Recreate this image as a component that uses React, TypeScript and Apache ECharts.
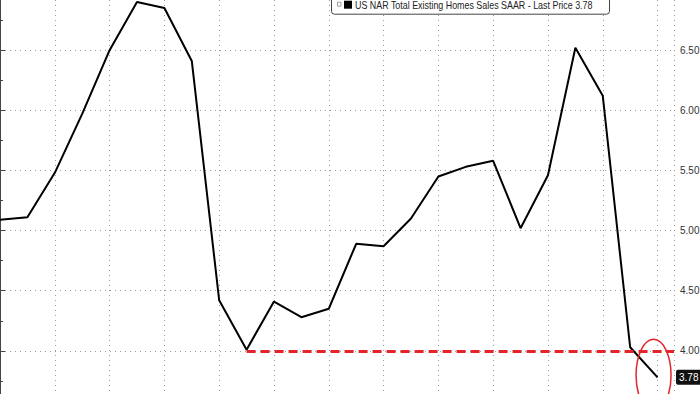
import React, { useEffect, useRef } from "react";
import * as echarts from "echarts";

const seriesName = "US NAR Total Existing Homes Sales SAAR";
const periods = [0, 1, 2, 3, 4, 5, 6, 7, 8, 9, 10, 11, 12, 13, 14, 15, 16, 17, 18, 19, 20, 21, 22, 23, 24];
const values = [5.09, 5.11, 5.48, 5.97, 6.5, 6.9, 6.85, 6.41, 4.42, 4.01, 4.41, 4.28, 4.35, 4.89, 4.87, 5.1, 5.45, 5.53, 5.58, 5.02, 5.46, 6.52, 6.12, 4.03, 3.78];
const lowLevel = 4.0;
const lowIndex = 9;
const lastPrice = 3.78;
const yMin = 3.5;
const yMax = 7.0;
const yStep = 0.5;
const xMin = 0;
const xMax = 24.6;
const xStep = 2;

const RED = "#e3242b";
const FONT = "'Liberation Sans', Arial, sans-serif";
const OFFSET_TOP = 10.2;
const CHART_H = 421.4;

export default function App() {
  const ref = useRef<HTMLDivElement>(null);
  useEffect(() => {
    document.body.style.margin = "0";
    if (!ref.current) return;
    const chart = echarts.init(ref.current, null, { renderer: "svg" });
    const data = periods.map((p, i) => [p, values[i]]);
    const lastIdx = periods[periods.length - 1];
    chart.setOption({
      animation: false,
      backgroundColor: "#ffffff",
      grid: { left: 0, right: 26, top: 0, bottom: 0, containLabel: false, outerBoundsMode: "none" },
      xAxis: {
        type: "value",
        min: xMin,
        max: xMax,
        interval: xStep,
        axisLine: { show: false },
        axisTick: { show: false },
        axisLabel: { show: false },
        splitLine: { show: true, lineStyle: { color: "#9a9a9a", type: [1, 4], width: 1 } },
      },
      yAxis: {
        type: "value",
        position: "right",
        min: yMin,
        max: yMax,
        interval: yStep,
        axisLine: { show: true, lineStyle: { color: "#444", width: 1 } },
        axisTick: { show: true, length: 5, lineStyle: { color: "#444" } },
        minorTick: { show: true, splitNumber: 2, length: 3, lineStyle: { color: "#444" } },
        axisLabel: {
          show: true,
          margin: 6,
          color: "#333",
          fontSize: 10,
          fontFamily: FONT,
          showMinLabel: false,
          showMaxLabel: false,
          formatter: (v: number) => v.toFixed(2),
        },
        splitLine: { show: true, lineStyle: { color: "#9a9a9a", type: [1, 4], width: 1 } },
      },
      series: [
        {
          name: seriesName,
          type: "line",
          data,
          symbol: "none",
          lineStyle: { color: "#000", width: 2 },
          clip: true,
          markLine: {
            silent: true,
            symbol: "none",
            animation: false,
            data: [
              [
                { coord: [lowIndex, lowLevel], lineStyle: { color: RED, width: 3, type: [9, 5] }, label: { show: false } },
                { coord: [xMax, lowLevel] },
              ],
            ],
          },
        },
      ],
    });
    const pt = chart.convertToPixel({ seriesIndex: 0 }, [lastIdx, lastPrice]) as number[];
    const rightEdge = chart.convertToPixel({ seriesIndex: 0 }, [xMax, lastPrice]) as number[];
    chart.setOption({
      graphic: [
        {
          type: "ellipse",
          shape: { cx: pt[0] - 4, cy: pt[1] - 2, rx: 17.5, ry: 36 },
          style: { fill: "none", stroke: RED, lineWidth: 1.5 },
          z: 100,
        },
        {
          type: "rect",
          z: 105,
          shape: { x: rightEdge[0] + 2, y: pt[1] - 7.5, width: 26, height: 15, r: 2 },
          style: { fill: "#111" },
        },
        {
          type: "text",
          z: 106,
          x: rightEdge[0] + 5,
          y: pt[1] + 0.5,
          style: {
            text: lastPrice.toFixed(2),
            fill: "#fff",
            font: "10px " + FONT,
            align: "left",
            verticalAlign: "middle",
          },
        },
        {
          type: "group",
          z: 110,
          children: [
            {
              type: "rect",
              shape: { x: 331.5, y: OFFSET_TOP - 6, width: 278, height: 20, r: 3 },
              style: { fill: "#fff", stroke: "#444", lineWidth: 1 },
            },
            {
              type: "rect",
              shape: { x: 337.5, y: OFFSET_TOP + 2, width: 3.5, height: 4 },
              style: { fill: "#fff", stroke: "#888", lineWidth: 0.8 },
            },
            {
              type: "rect",
              shape: { x: 344, y: OFFSET_TOP + 0.5, width: 8, height: 8 },
              style: { fill: "#000" },
            },
            {
              type: "text",
              x: 355,
              y: OFFSET_TOP + 5,
              scaleX: 0.848,
              style: {
                text: seriesName + " - Last Price " + lastPrice.toFixed(2),
                fill: "#222",
                font: "10.5px " + FONT,
                verticalAlign: "middle",
                align: "left",
              },
            },
          ],
        },
      ],
    });
    return () => chart.dispose();
  }, []);
  return (
    <div style={{ width: 700, height: 394, overflow: "hidden", position: "relative", background: "#fff" }}>
      <div ref={ref} style={{ position: "absolute", left: 0, top: -OFFSET_TOP, width: 700, height: CHART_H }} />
    </div>
  );
}
